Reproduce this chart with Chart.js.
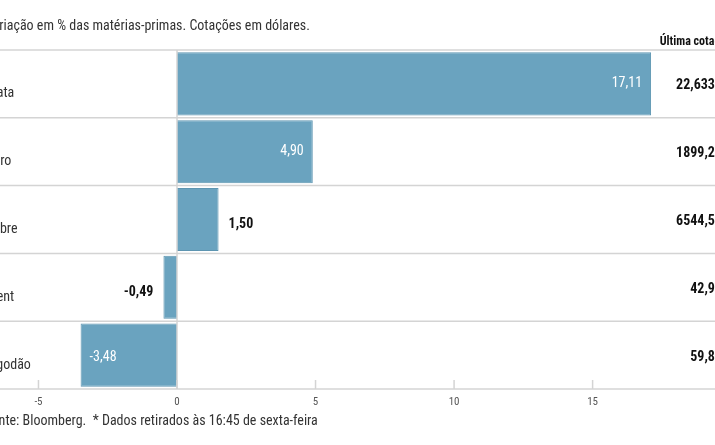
<!DOCTYPE html>
<html><head><meta charset="utf-8">
<script src="https://cdn.jsdelivr.net/npm/chart.js@4"></script>
<style>html,body{margin:0;padding:0;background:#fff;overflow:hidden;width:715px;height:445px}
#wrap{position:absolute;left:-15px;top:0;width:760px;height:445px}</style>
</head><body><div id="wrap"><canvas id="c" width="760" height="445"></canvas></div>
<script>
const categories = ["Prata","Ouro","Cobre","Brent","Algodão"];
const changes = [17.11, 4.90, 1.50, -0.49, -3.48];
const lastQuotes = ["22,6339","1899,22","6544,50","42,93","59,85"];
const tickValues = [-5, 0, 5, 10, 15];
const title = "Variação em % das matérias-primas. Cotações em dólares.";
const quoteHeader = "Última cotação*";
const footer = "Fonte: Bloomberg.  * Dados retirados às 16:45 de sexta-feira";

const FONT = '"Liberation Sans Narrow","Roboto Condensed","Open Sans",sans-serif';
const fmt = v => v.toFixed(2).replace('.', ',');

const deco = {
  id: 'deco',
  afterDatasetsDraw(chart) {
    const {ctx, chartArea: a, scales: {x, y}} = chart;
    const W = chart.width;
    ctx.save();
    // row separators
    ctx.strokeStyle = '#d4d4d4'; ctx.lineWidth = 1.5;
    const n = categories.length, h = (a.bottom - a.top) / n;
    for (let i = 0; i <= n; i++) {
      const yy = a.top + i * h;
      ctx.beginPath(); ctx.moveTo(0, yy); ctx.lineTo(W, yy); ctx.stroke();
    }
    // zero line & ticks
    const x0 = x.getPixelForValue(0);
    ctx.beginPath(); ctx.moveTo(x0, a.top); ctx.lineTo(x0, a.bottom); ctx.stroke();
    ctx.fillStyle = '#555'; ctx.font = '11px ' + FONT; ctx.textAlign = 'center'; ctx.textBaseline = 'top';
    tickValues.forEach(t => {
      const px = x.getPixelForValue(t);
      ctx.beginPath(); ctx.moveTo(px, a.bottom - 9); ctx.lineTo(px, a.bottom); ctx.stroke();
      ctx.fillText(String(t), px, a.bottom + 8);
    });
    // texts
    ctx.textBaseline = 'alphabetic'; ctx.textAlign = 'left';
    ctx.fillStyle = '#333'; ctx.font = '14px ' + FONT;
    ctx.fillText(title, 0, 30);
    ctx.fillText(footer, 0, 425);
    ctx.textAlign = 'right'; ctx.font = 'bold 12px ' + FONT; ctx.fillStyle = '#111';
    ctx.fillText(quoteHeader, 752, 45);
    categories.forEach((c, i) => {
      const yc = y.getPixelForValue(i);
      ctx.textBaseline = 'middle';
      ctx.textAlign = 'left'; ctx.font = '14px ' + FONT; ctx.fillStyle = '#333';
      ctx.fillText(c, 0, yc + 10);
      ctx.textAlign = 'right'; ctx.font = 'bold 14px ' + FONT; ctx.fillStyle = '#111';
      ctx.fillText(lastQuotes[i], 737, yc + 2);
      const v = changes[i], xe = x.getPixelForValue(v);
      const inside = Math.abs(v) > 3;
      if (inside) {
        ctx.fillStyle = '#fff'; ctx.font = '14px ' + FONT;
        if (v > 0) { ctx.textAlign = 'right'; ctx.fillText(fmt(v), xe - 9, yc); }
        else { ctx.textAlign = 'left'; ctx.fillText(fmt(v), xe + 9, yc + 2); }
      } else {
        ctx.fillStyle = '#111'; ctx.font = 'bold 14px ' + FONT;
        if (v > 0) { ctx.textAlign = 'left'; ctx.fillText(fmt(v), xe + 10, yc + 5); }
        else { ctx.textAlign = 'right'; ctx.fillText(fmt(v), xe - 10, yc + 5); }
      }
    });
    ctx.restore();
  }
};

new Chart(document.getElementById('c'), {
  type: 'bar',
  data: { labels: categories, datasets: [{ data: changes, backgroundColor: '#6aa3bf', borderColor: '#5d95b1', borderWidth: 1, barPercentage: 0.93, categoryPercentage: 1 }] },
  options: {
    indexAxis: 'y', responsive: false, animation: false,
    layout: { padding: { top: 50, bottom: 56, left: 0, right: 0 } },
    plugins: { legend: { display: false }, tooltip: { enabled: false } },
    scales: {
      x: { display: false, min: -6.93, max: 20.5 },
      y: { display: false, offset: true }
    }
  },
  plugins: [deco]
});
</script></body></html>
